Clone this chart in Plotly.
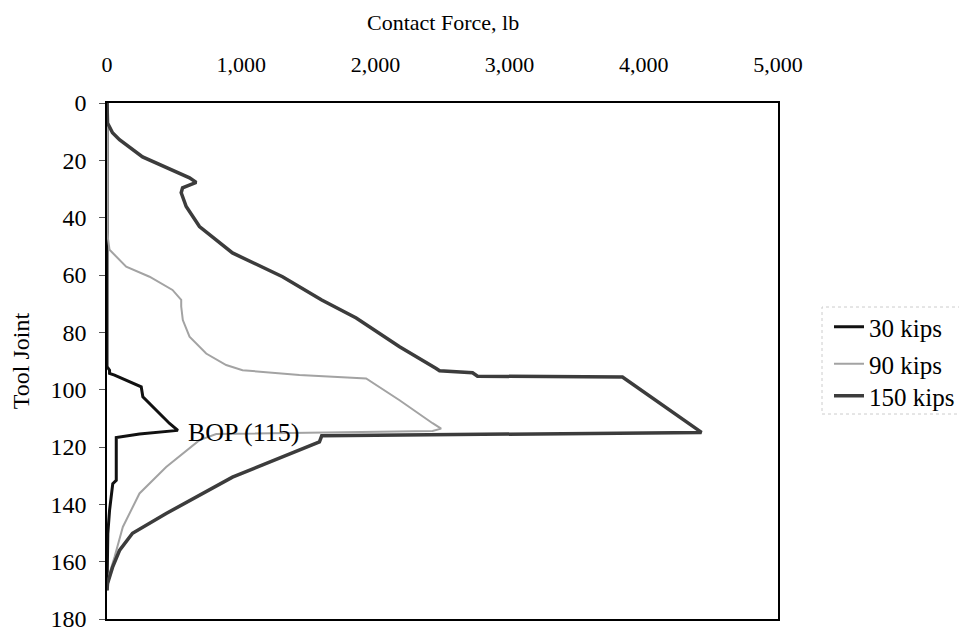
import plotly.graph_objects as go

# ---- data ----
joint_30 = [0, 92, 93.2, 94.3, 94.9, 97.8, 99, 102.5, 107.2, 111.8, 114.2, 115.5, 116.7, 131.6, 132.8, 142.1, 150.2, 170]
force_30 = [0, 0, 19, 19, 56, 192, 255, 267, 367, 466, 528, 242, 69, 69, 43, 19, 6, 0]

joint_90 = [0, 45, 51.2, 57.1, 60.6, 65.2, 68.7, 71, 75.7, 81.5, 87.4, 91.4, 93.2, 94.9, 96.1,
            103.7, 111.7, 113.6, 114.4, 115.5, 117.6, 127, 136.2, 147.9, 158.4, 164.1, 170]
force_90 = [0, 0, 19, 143, 317, 488, 553, 553, 565, 615, 739, 888, 1010, 1434, 1931,
            2180, 2426, 2490, 2426, 814, 689, 441, 242, 118, 56, 19, 0]

joint_150 = [0, 4, 7, 10.4, 12.8, 18.8, 22.6, 26.1, 27.7, 28.7, 29.6, 31.3, 36.1, 43.1, 52.3, 60.6,
             68.7, 75, 85, 92.6, 93.4, 94.1, 95.3, 95.6, 114.9, 116.1, 118.2, 130.5, 143.2, 150.1,
             156.1, 162, 167.6, 170]
force_150 = [0, 0, 4, 41, 93, 265, 443, 615, 665, 615, 563, 553, 590, 689, 935, 1308,
             1600, 1857, 2180, 2453, 2478, 2724, 2761, 3841, 4430, 1600, 1583, 935, 441, 190,
             93, 41, 4, 0]

series_names = ["30 kips", "90 kips", "150 kips"]
x_ticks = [0, 1000, 2000, 3000, 4000, 5000]
y_ticks = [0, 20, 40, 60, 80, 100, 120, 140, 160, 180]
x_title = "Contact Force, lb"
y_title = "Tool Joint"
bop_joint = 115
bop_force = 592
bop_label = "BOP (115)"

FONT = "Liberation Serif"

fig = go.Figure()
styles = [dict(color="#111111", width=3),
          dict(color="#a3a3a3", width=2),
          dict(color="#3c3c3c", width=3.5)]
data = [(force_30, joint_30), (force_90, joint_90), (force_150, joint_150)]
legends = ["legend", "legend2", "legend3"]
for (fx, jy), name, st, lg in zip(data, series_names, styles, legends):
    fig.add_trace(go.Scatter(x=fx, y=jy, mode="lines", name=name, line=st,
                             legend=lg, showlegend=True))

fig.add_annotation(x=bop_force, y=bop_joint, text=bop_label, showarrow=False,
                   xanchor="left", yanchor="middle", font=dict(family=FONT, size=26, color="black"))

# page has an 8px body margin; figure sized to fit the window
OFF = 8
W, H = 959, 626
L, R, T, B = 99, 189, 95, 15
pw, ph = W - L - R, H - T - B


def px_to_paper_x(page_px):
    return (page_px - OFF - L) / pw


def py_to_paper_y(page_py):
    return (H - B - (page_py - OFF)) / ph


# x-axis title (top)
fig.add_annotation(xref="paper", yref="paper", x=0.5, y=py_to_paper_y(8), text=x_title,
                   showarrow=False, xanchor="center", yanchor="top",
                   font=dict(family=FONT, size=22, color="black"))

leg_common = dict(font=dict(family=FONT, size=25, color="black"), bgcolor="rgba(0,0,0,0)",
                  xanchor="left", yanchor="middle", itemwidth=30)
fig.update_layout(
    width=W, height=H,
    showlegend=True,
    margin=dict(l=L, r=R, t=T, b=B, autoexpand=False),
    paper_bgcolor="white", plot_bgcolor="white",
    font=dict(family=FONT, color="black"),
    legend=dict(x=px_to_paper_x(829), y=py_to_paper_y(327), **leg_common),
    legend2=dict(x=px_to_paper_x(829), y=py_to_paper_y(364), **leg_common),
    legend3=dict(x=px_to_paper_x(829), y=py_to_paper_y(396), **leg_common),
    shapes=[dict(type="rect", xref="paper", yref="paper",
                 x0=px_to_paper_x(822), x1=px_to_paper_x(964),
                 y0=py_to_paper_y(414), y1=py_to_paper_y(307),
                 line=dict(color="#cccccc", width=1, dash="dot"))],
)
fig.update_xaxes(side="top", range=[0, 5000], tickvals=x_ticks, tickformat=",d",
                 automargin=False,
                 showgrid=False, zeroline=False, showline=True, mirror=True,
                 linecolor="black", linewidth=1.5, ticks="", ticklabelstandoff=20,
                 tickfont=dict(family=FONT, size=22, color="black"))
fig.update_yaxes(range=[180, 0], tickvals=y_ticks, showgrid=False, zeroline=False,
                 automargin=False,
                 showline=True, mirror=True, linecolor="black", linewidth=1.5,
                 ticks="outside", ticklen=6, tickcolor="#555", ticklabelstandoff=8,
                 tickfont=dict(family=FONT, size=24, color="black"),
                 title=dict(text=y_title, font=dict(family=FONT, size=24, color="black"),
                            standoff=16))

fig.write_html("out.html")
